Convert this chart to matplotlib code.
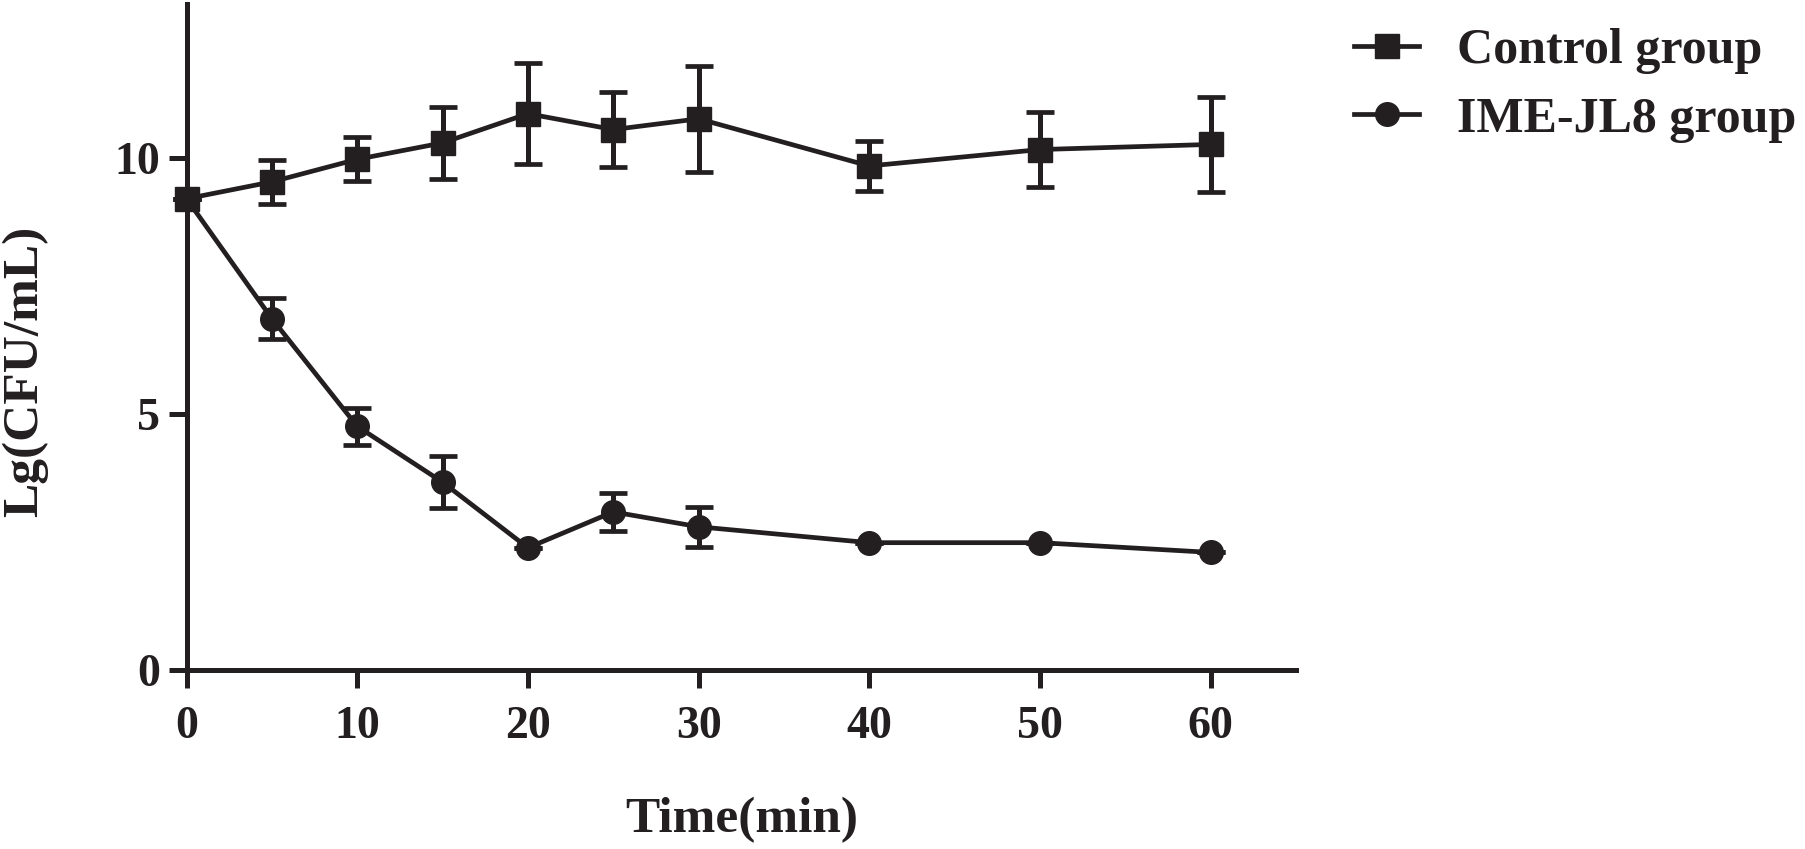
import numpy as np
import matplotlib
matplotlib.use("Agg")
import matplotlib.pyplot as plt

# time points (min)
time_min = [0, 5, 10, 15, 20, 25, 30, 40, 50, 60]

# Lg(CFU/mL) means and error bars
control_mean = [9.20, 9.53, 9.97, 10.29, 10.86, 10.55, 10.76, 9.84, 10.16, 10.26]
control_err = [0.0, 0.43, 0.43, 0.70, 0.99, 0.73, 1.03, 0.49, 0.74, 0.92]

phage_mean = [9.20, 6.86, 4.76, 3.67, 2.39, 3.09, 2.80, 2.49, 2.49, 2.30]
phage_err = [0.0, 0.40, 0.36, 0.51, 0.0, 0.37, 0.39, 0.0, 0.0, 0.0]

labels = ["Control group", "IME-JL8 group"]
x_ticks = [0, 10, 20, 30, 40, 50, 60]
y_ticks = [0, 5, 10]

ink = "#231f20"
plt.rcParams["font.family"] = ["Liberation Serif", "DejaVu Serif"]
plt.rcParams["font.weight"] = "bold"

fig = plt.figure(figsize=(18.06, 8.49), dpi=100)
ax = fig.add_axes([0.1033, 0.2105, 0.6143, 0.7848])

style = dict(color=ink, lw=3.4, markersize=17, elinewidth=3.6,
             capsize=10, capthick=3.4, ecolor=ink, clip_on=False)
c1 = ax.errorbar(time_min, control_mean, yerr=control_err, fmt="-s", **style)
c2 = ax.errorbar(time_min, phage_mean, yerr=phage_err, fmt="-o", **style)

ax.set_xlim(0, 65)
ax.set_ylim(0, 13)
ax.set_xticks(x_ticks)
ax.set_yticks(y_ticks)

for side in ["top", "right"]:
    ax.spines[side].set_visible(False)
for side in ["left", "bottom"]:
    ax.spines[side].set_linewidth(3.6)
    ax.spines[side].set_color(ink)

ax.tick_params(axis="both", direction="out", length=13, width=3.6,
               color=ink, labelcolor=ink, labelsize=33)
ax.tick_params(axis="x", pad=13)
ax.tick_params(axis="y", pad=6)

ax.set_xlabel("Time(min)", fontsize=37, fontweight="bold", color=ink)
ax.set_ylabel("Lg(CFU/mL)", fontsize=37, fontweight="bold", color=ink)
ax.xaxis.set_label_coords(0.5, -0.225)
ax.xaxis.label.set_va("center")
ax.yaxis.set_label_coords(-0.1457, 0.449)
ax.yaxis.label.set_va("center")

leg = ax.legend([c1.lines[0], c2.lines[0]], labels,
                loc="upper left", bbox_to_anchor=(0.750, 0.967),
                bbox_transform=fig.transFigure, frameon=False,
                fontsize=36, handlelength=1.3, handletextpad=0.75,
                labelspacing=0.45, borderpad=0.0, borderaxespad=0.0)
for t in leg.get_texts():
    t.set_color(ink)

fig.savefig("out.png", dpi=100, facecolor="white")
